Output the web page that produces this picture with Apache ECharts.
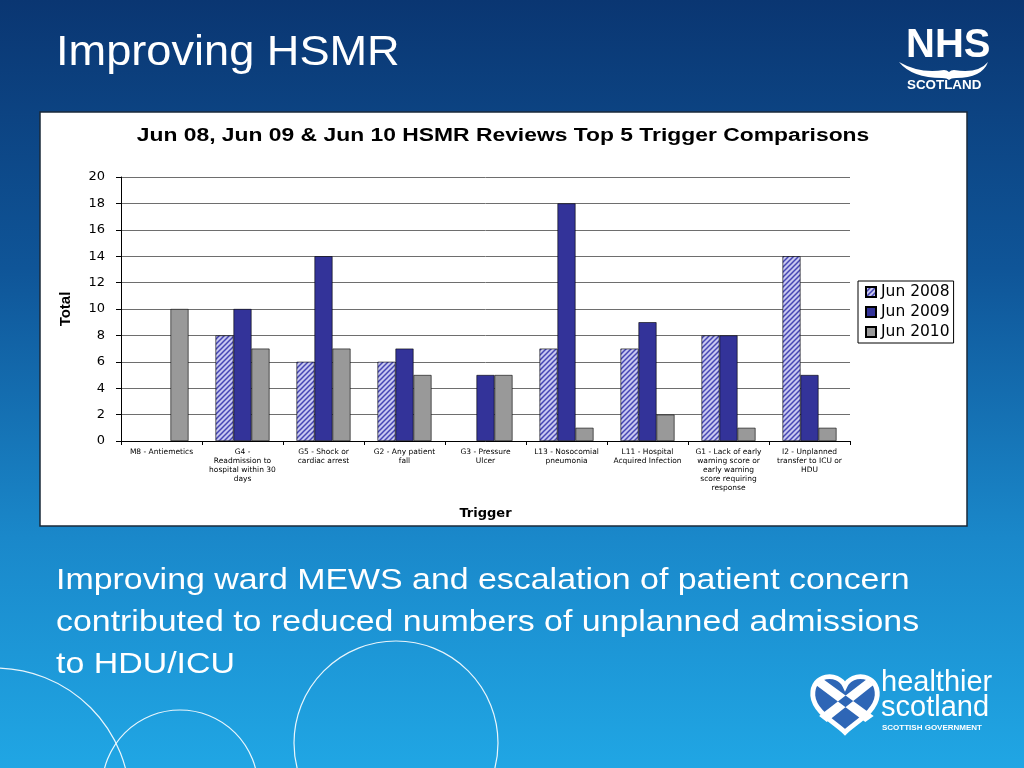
<!DOCTYPE html>
<html><head><meta charset="utf-8">
<script src="https://cdn.jsdelivr.net/npm/echarts@6/dist/echarts.min.js"></script>
<style>html,body{margin:0;padding:0;width:1024px;height:768px;overflow:hidden;}
#c{width:1024px;height:768px;}</style></head>
<body><div id="c"></div>
<script>
const categories = [
  'M8 - Antiemetics',
  'G4 - Readmission to hospital within 30 days',
  'G5 - Shock or cardiac arrest',
  'G2 - Any patient fall',
  'G3 - Pressure Ulcer',
  'L13 - Nosocomial pneumonia',
  'L11 - Hospital Acquired Infection',
  'G1 - Lack of early warning score or early warning score requiring response',
  'I2 - Unplanned transfer to ICU or HDU'
];
const labelLines = [
  'M8 - Antiemetics',
  'G4 -\nReadmission to\nhospital within 30\ndays',
  'G5 - Shock or\ncardiac arrest',
  'G2 - Any patient\nfall',
  'G3 - Pressure\nUlcer',
  'L13 - Nosocomial\npneumonia',
  'L11 - Hospital\nAcquired Infection',
  'G1 - Lack of early\nwarning score or\nearly warning\nscore requiring\nresponse',
  'I2 - Unplanned\ntransfer to ICU or\nHDU'
];
const seriesNames = ['Jun 2008', 'Jun 2009', 'Jun 2010'];
const jun2008 = [0, 8, 6, 6, 0, 7, 7, 8, 14];
const jun2009 = [0, 10, 14, 7, 5, 18, 9, 8, 5];
const jun2010 = [10, 7, 7, 5, 5, 1, 2, 1, 1];
const yTicks = [0, 2, 4, 6, 8, 10, 12, 14, 16, 18, 20];

// hatch pattern
const pc = document.createElement('canvas');
pc.width = 5; pc.height = 5;
const px = pc.getContext('2d');
px.fillStyle = '#c8c8f0'; px.fillRect(0,0,5,5);
px.strokeStyle = '#4646b4'; px.lineWidth = 1.5;
px.beginPath();
px.moveTo(-1,6); px.lineTo(6,-1);
px.moveTo(-3,3); px.lineTo(3,-3);
px.moveTo(2,8); px.lineTo(8,2);
px.stroke();
const hatch = {image: pc, repeat: 'repeat'};

// custom shapes for logos
const HeartShape = echarts.graphic.extendPath(
  'M0,-22 C-10,-44 -48,-40 -46,-8 C-44,16 -14,32 0,46 C14,32 44,16 46,-8 C48,-40 10,-44 0,-22 Z', {});
const SaltireShape = echarts.graphic.extendPath(
  'M-42,-24 L-31,-32 L41,22 L29,31 Z M41,-24 L31,-32 L-37,22 L-26,31 Z', {});
const WaveShape = echarts.graphic.extendPath(
  'M0,0 Q21,12 45,8 Q48,8 50,10 Q52,8 55,8 Q79,12 89,0 Q83,16 57,16 Q52,16 50,18 Q48,16 43,16 Q13,16 0,0 Z', {});
echarts.graphic.registerShape('heartShape', HeartShape);
echarts.graphic.registerShape('saltireShape', SaltireShape);
echarts.graphic.registerShape('waveShape', WaveShape);

const chart = echarts.init(document.getElementById('c'));
const FONT = 'Liberation Sans, Arial, sans-serif';
const WIDE = 'DejaVu Sans, Verdana, sans-serif';
const labelMap = {};
categories.forEach((c,i)=>labelMap[c]=labelLines[i]);

const ring = 'rgba(255,255,255,0.9)';
function barData(arr) {
  return arr.map(v => v === 0 ? {value: v, itemStyle: {borderWidth: 0, opacity: 0}} : v);
}

chart.setOption({
  backgroundColor: {
    type: 'linear', x: 0, y: 0, x2: 0, y2: 1,
    colorStops: [
      {offset: 0, color: '#0a3672'},
      {offset: 0.35, color: '#0f5598'},
      {offset: 0.7, color: '#1a88ca'},
      {offset: 1, color: '#20a6e4'}
    ]
  },
  animation: false,
  graphic: [
    {type: 'circle', shape: {cx: -5, cy: 803, r: 135}, style: {fill: 'none', stroke: ring, lineWidth: 1.2}, z: 0},
    {type: 'circle', shape: {cx: 180, cy: 788, r: 78}, style: {fill: 'none', stroke: ring, lineWidth: 1.2}, z: 0},
    {type: 'circle', shape: {cx: 396, cy: 743, r: 102}, style: {fill: 'none', stroke: ring, lineWidth: 1.2}, z: 0},
    {type: 'rect', shape: {x: 40, y: 112, width: 927, height: 414}, style: {fill: '#ffffff', stroke: '#1a2a3a', lineWidth: 1.5}, z: 0},
    {type: 'text', x: 56, y: 32, scaleX: 1.075, style: {text: 'Improving HSMR', fill: '#ffffff', font: '42px ' + FONT}, z: 5},
    {type: 'text', x: 56, y: 560, scaleX: 1.13, style: {text: 'Improving ward MEWS and escalation of patient concern\ncontributed to reduced numbers of unplanned admissions\nto HDU/ICU', fill: '#ffffff', font: '30px ' + FONT, lineHeight: 42}, z: 5},
    {type: 'text', x: 503, y: 127, scaleX: 1.27, style: {text: 'Jun 08, Jun 09 & Jun 10 HSMR Reviews Top 5 Trigger Comparisons', fill: '#000', font: 'bold 18px ' + FONT, align: 'center'}, z: 5},
    // NHS logo
    {type: 'text', x: 906, y: 26, style: {text: 'NHS', fill: '#ffffff', font: 'bold 40px ' + FONT}, z: 5},
    {type: 'waveShape', x: 899, y: 62, style: {fill: '#ffffff'}, z: 5},
    {type: 'text', x: 907, y: 79, scaleX: 1.03, style: {text: 'SCOTLAND', fill: '#ffffff', font: 'bold 13px ' + FONT}, z: 5},
    // healthier scotland logo
    {type: 'group', x: 845, y: 701, scaleX: 0.7, scaleY: 0.68, children: [
      {type: 'heartShape', style: {fill: '#2e66b6', stroke: '#ffffff', lineWidth: 7}},
      {type: 'saltireShape', style: {fill: '#ffffff'}}
    ], z: 5},
    {type: 'text', x: 881, y: 668, style: {text: 'healthier', fill: '#ffffff', font: '29px ' + FONT}, z: 5},
    {type: 'text', x: 881, y: 693, style: {text: 'scotland', fill: '#ffffff', font: '29px ' + FONT}, z: 5},
    {type: 'text', x: 882, y: 724, style: {text: 'SCOTTISH GOVERNMENT', fill: '#ffffff', font: 'bold 8px ' + FONT}, z: 5}
  ],
  legend: {
    orient: 'vertical', left: 858, top: 281,
    data: seriesNames, icon: 'rect',
    itemWidth: 10, itemHeight: 10, itemGap: 4,
    padding: [3, 4, 3, 7],
    borderColor: '#000', borderWidth: 1, backgroundColor: '#fff',
    textStyle: {fontFamily: WIDE, fontSize: 15.5, lineHeight: 16, color: '#000', padding: [0, 0, 0, 0]}
  },
  grid: {left: 121, right: 174, top: 177, bottom: 327, containLabel: false},
  xAxis: {
    type: 'category', data: categories,
    name: 'Trigger', nameLocation: 'middle', nameGap: 66,
    nameTextStyle: {fontFamily: WIDE, fontWeight: 'bold', fontSize: 13, color: '#000'},
    axisLine: {lineStyle: {color: '#000', width: 1}},
    axisTick: {show: true, alignWithLabel: false, length: 4, lineStyle: {color: '#000'}},
    axisLabel: {interval: 0, fontFamily: WIDE, fontSize: 7.5, color: '#000', lineHeight: 9, margin: 7,
      formatter: v => labelMap[v]}
  },
  yAxis: {
    type: 'value', min: 0, max: 20, interval: 2,
    name: 'Total', nameLocation: 'middle', nameGap: 48, nameRotate: 90,
    nameTextStyle: {fontFamily: 'Liberation Sans Narrow, Arial Narrow, ' + FONT, fontWeight: 'bold', fontSize: 15, color: '#000'},
    axisLine: {show: true, lineStyle: {color: '#000', width: 1}},
    axisTick: {show: true, length: 5, lineStyle: {color: '#000'}},
    axisLabel: {fontFamily: WIDE, fontSize: 13, color: '#000', margin: 16,
      formatter: v => yTicks.includes(v) ? String(v) : ''},
    splitLine: {lineStyle: {color: '#6e6e6e', width: 1}}
  },
  series: [
    {name: seriesNames[0], type: 'bar', data: barData(jun2008), barWidth: 18, barGap: '0%',
      itemStyle: {color: hatch, borderColor: '#000', borderWidth: 0.6}},
    {name: seriesNames[1], type: 'bar', data: barData(jun2009), barWidth: 18, barGap: '0%',
      itemStyle: {color: '#333399', borderColor: '#000', borderWidth: 0.6}},
    {name: seriesNames[2], type: 'bar', data: barData(jun2010), barWidth: 18, barGap: '0%',
      itemStyle: {color: '#999999', borderColor: '#000', borderWidth: 0.6}}
  ]
});
</script>
</body></html>
